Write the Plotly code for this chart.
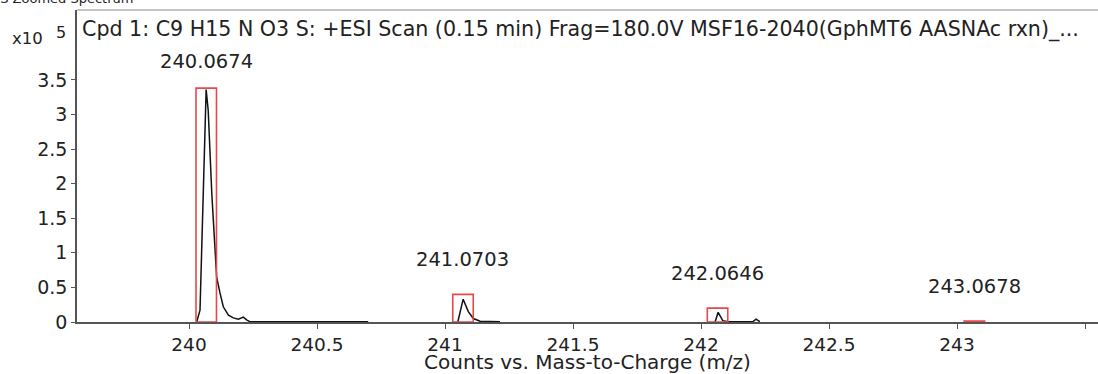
import plotly.graph_objects as go

# ---- data (m/z, counts x10^5) ----
profile_mz_1 = [240.030, 240.043, 240.067, 240.075, 240.089, 240.102, 240.108, 240.121,
                240.134, 240.154, 240.173, 240.193, 240.212, 240.225, 240.238, 240.700]
profile_int_1 = [0.00, 0.17, 3.36, 3.06, 1.86, 1.00, 0.65, 0.42,
                 0.22, 0.10, 0.06, 0.04, 0.07, 0.03, 0.005, 0.005]
profile_mz_2 = [241.050, 241.071, 241.091, 241.111, 241.137, 241.215]
profile_int_2 = [0.00, 0.33, 0.15, 0.05, 0.01, 0.005]
profile_mz_3 = [242.055, 242.067, 242.085, 242.107, 242.140, 242.203, 242.215, 242.230]
profile_int_3 = [0.00, 0.14, 0.02, 0.005, 0.005, 0.005, 0.04, 0.005]

peak_labels = ["240.0674", "241.0703", "242.0646", "243.0678"]
peak_mz = [240.0674, 241.0703, 242.0646, 243.0678]
box_heights = [3.38, 0.40, 0.20, 0.015]

x_tickvals = [240, 240.5, 241, 241.5, 242, 242.5, 243, 243.5]
x_ticktext = ["240", "240.5", "241", "241.5", "242", "242.5", "243", ""]
y_tickvals = [0, 0.5, 1, 1.5, 2, 2.5, 3, 3.5]
y_ticktext = ["0", "0.5", "1", "1.5", "2", "2.5", "3", "3.5"]

title_text = "Cpd 1: C9 H15 N O3 S: +ESI Scan (0.15 min) Frag=180.0V MSF16-2040(GphMT6 AASNAc rxn)_..."
x_title = "Counts vs. Mass-to-Charge (m/z)"
scale_text = "x10"
scale_exp = "5"
header_text = "MS Zoomed Spectrum"

FONT = "DejaVu Sans"
TXT = "#222222"
BOX_HALF = 0.04
label_shift = [13, 21, 21, 21]

fig = go.Figure()

# profile spectrum
xs, ys = [], []
for mz, it in [(profile_mz_1, profile_int_1), (profile_mz_2, profile_int_2), (profile_mz_3, profile_int_3)]:
    xs += mz + [None]
    ys += it + [None]
fig.add_trace(go.Scatter(x=xs, y=ys, mode="lines",
                         line=dict(color="#111111", width=1.5), hoverinfo="skip"))

# red predicted isotope boxes
bx, by = [], []
for c, h in zip(peak_mz, box_heights):
    bx += [c - BOX_HALF, c - BOX_HALF, c + BOX_HALF, c + BOX_HALF, c - BOX_HALF, None]
    by += [0, h, h, 0, 0, None]
fig.add_trace(go.Scatter(x=bx, y=by, mode="lines",
                         line=dict(color="#e8484a", width=1.6), hoverinfo="skip"))

annotations = []
for lab, c, h, s in zip(peak_labels, peak_mz, box_heights, label_shift):
    annotations.append(dict(x=c, y=h, xref="x", yref="y", text=lab, showarrow=False,
                            yanchor="bottom", yshift=s,
                            font=dict(family=FONT, size=19.5, color=TXT)))

annotations.append(dict(x=0, y=0.937, xref="paper", yref="paper", text=title_text,
                        showarrow=False, xanchor="left", yanchor="middle", xshift=3,
                        font=dict(family=FONT, size=20.6, color=TXT)))
annotations.append(dict(x=0, y=0.91, xref="paper", yref="paper", text=scale_text,
                        showarrow=False, xanchor="right", yanchor="middle", xshift=-32,
                        font=dict(family=FONT, size=16.5, color=TXT)))
annotations.append(dict(x=0, y=0.928, xref="paper", yref="paper", text=scale_exp,
                        showarrow=False, xanchor="right", yanchor="middle", xshift=-9,
                        font=dict(family=FONT, size=16, color=TXT)))
annotations.append(dict(x=0.0568, y=1.037, xref="paper", yref="paper", text=header_text,
                        showarrow=False, xanchor="right", yanchor="middle",
                        font=dict(family=FONT, size=13, color=TXT)))

fig.update_layout(
    width=1098, height=374,
    margin=dict(l=77, r=0, t=10, b=52),
    paper_bgcolor="white", plot_bgcolor="white",
    showlegend=False,
    annotations=annotations,
    shapes=[dict(type="line", xref="paper", yref="paper", x0=0, x1=1, y0=1, y1=1,
                 line=dict(color="#b0b0b0", width=1.5))],
    xaxis=dict(range=[239.5625, 243.5508], tickvals=x_tickvals, ticktext=x_ticktext,
               showgrid=False, zeroline=False, showline=True, linecolor="#555555", linewidth=1.5,
               ticks="outside", ticklen=5, tickcolor="#555555",
               tickfont=dict(family=FONT, size=18.5, color=TXT),
               title=dict(text=x_title, standoff=0, font=dict(family=FONT, size=20, color=TXT))),
    yaxis=dict(range=[0, 4.51], tickvals=y_tickvals, ticktext=y_ticktext,
               showgrid=False, zeroline=False, showline=True, linecolor="#555555", linewidth=1.5,
               ticks="outside", ticklen=4, tickcolor="#555555",
               tickfont=dict(family=FONT, size=19, color=TXT)),
)

fig.write_html("out.html")
